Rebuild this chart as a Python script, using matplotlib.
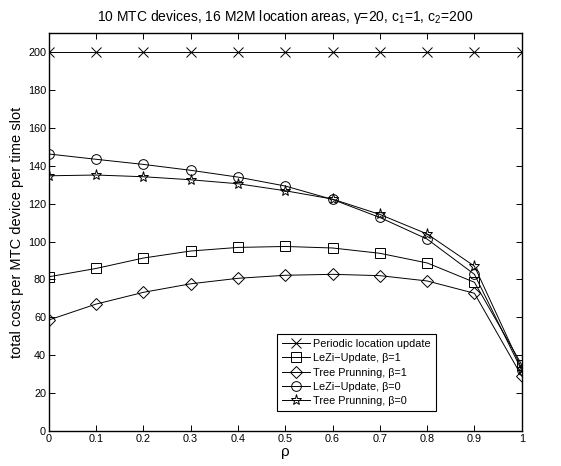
import numpy as np
import matplotlib.pyplot as plt

plt.rcParams['font.family'] = ['Liberation Sans', 'DejaVu Sans']
plt.rcParams['mathtext.fontset'] = 'custom'
plt.rcParams['mathtext.rm'] = 'Liberation Sans'
plt.rcParams['mathtext.it'] = 'Liberation Sans'

rho = [0, 0.1, 0.2, 0.3, 0.4, 0.5, 0.6, 0.7, 0.8, 0.9, 1.0]
periodic = [200] * 11
lezi_b1 = [81.4, 85.8, 91.3, 95.0, 96.9, 97.4, 96.6, 93.8, 88.7, 78.5, 35]
tree_b1 = [58.6, 67.0, 73.2, 77.7, 80.6, 82.2, 82.7, 82.0, 79.2, 72.7, 29]
lezi_b0 = [146.2, 143.4, 140.7, 137.6, 134.0, 129.3, 122.2, 112.7, 101.3, 82.7, 32]
tree_b0 = [134.7, 135.1, 134.2, 132.6, 130.5, 126.8, 122.4, 114.3, 104.0, 87.0, 33]

series = [
    (periodic, 'x', 'Periodic location update'),
    (lezi_b1, 's', 'LeZi\u2212Update, \u03b2=1'),
    (tree_b1, 'D', 'Tree Prunning, \u03b2=1'),
    (lezi_b0, 'o', 'LeZi\u2212Update, \u03b2=0'),
    (tree_b0, '*', 'Tree Prunning, \u03b2=0'),
]
sizes = {'x': 7, 's': 7, 'D': 6.5, 'o': 7, '*': 8}

fig = plt.figure(figsize=(5.61, 4.66), dpi=100)
ax = fig.add_axes([0.087, 0.075, 0.843, 0.854])

for vals, mk, lab in series:
    ax.plot(rho, vals, color='k', lw=0.7, marker=mk, ms=sizes[mk],
            mfc='none', mec='k', mew=0.7, label=lab)

ax.set_xlim(0, 1)
ax.set_ylim(0, 210)
ax.set_xticks(np.arange(0, 1.01, 0.1))
ax.set_xticklabels(['0', '0.1', '0.2', '0.3', '0.4', '0.5', '0.6', '0.7', '0.8', '0.9', '1'])
ax.set_yticks(np.arange(0, 201, 20))
ax.tick_params(direction='in', top=True, right=True, labelsize=7.8, length=4, width=0.7, pad=2)
for s in ax.spines.values():
    s.set_linewidth(1.0)

ax.set_xlabel('\u03c1', fontsize=11, labelpad=1)
ax.set_ylabel('total cost per MTC device per time slot', fontsize=10.5, labelpad=3)
ax.set_title('10 MTC devices, 16 M2M location areas, \u03b3=20, c$_1$=1, c$_2$=200', fontsize=10, pad=9)

leg = ax.legend(loc='lower left', bbox_to_anchor=(0.482, 0.050), fontsize=7.8,
                fancybox=False, framealpha=1, edgecolor='k', borderpad=0.45,
                labelspacing=0.4, handlelength=2.6, handletextpad=0.3, borderaxespad=0)
leg.get_frame().set_linewidth(0.8)

fig.savefig('out.png', dpi=100)
